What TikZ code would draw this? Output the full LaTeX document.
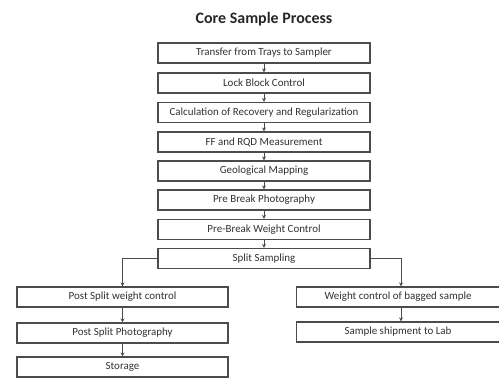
\documentclass[tikz,border=0pt]{standalone}
\usepackage{fontspec}
\setmainfont{Carlito}
\usetikzlibrary{arrows.meta}
\begin{document}
\begin{tikzpicture}[x=1bp,y=-1bp,
  stepbox/.style={draw=black!70, line width=1.2bp, fill=white, inner sep=0pt,
    minimum height=20bp, font=\fontsize{11}{13}\selectfont, text=black!80},
  mainbox/.style={stepbox, minimum width=212bp},
  leftbox/.style={stepbox, minimum width=211bp},
  rightbox/.style={stepbox, minimum width=203bp},
  conn/.style={draw=black!70, line width=0.8bp, -{Stealth[length=4bp,width=4bp]}}]
\useasboundingbox (0,0) rectangle (499,379);
\node[font=\bfseries\fontsize{16}{18}\selectfont, text=black!85] (title) at (264,19) {Core Sample Process};
\node[mainbox] (b1) at (264,53) {Transfer from Trays to Sampler};
\node[mainbox] (b2) at (264,83) {Lock Block Control};
\node[mainbox] (b3) at (264,112.5) {Calculation of Recovery and Regularization};
\node[mainbox] (b4) at (264,142) {FF and RQD Measurement};
\node[mainbox] (b5) at (264,171) {Geological Mapping};
\node[mainbox] (b6) at (264,200) {Pre Break Photography};
\node[mainbox] (b7) at (264,229.5) {Pre-Break Weight Control};
\node[mainbox] (b8) at (264,258.5) {Split Sampling};
\node[leftbox] (l1) at (122.5,297) {Post Split weight control};
\node[leftbox] (l2) at (122.5,333) {Post Split Photography};
\node[leftbox] (l3) at (122.5,367) {Storage};
\node[rightbox] (r1) at (398,297) {Weight control of bagged sample};
\node[rightbox] (r2) at (398,332) {Sample shipment to Lab};
\foreach \a/\b in {b1/b2,b2/b3,b3/b4,b4/b5,b5/b6,b6/b7,b7/b8,l1/l2,l2/l3}
  \draw[conn] (\a.south) -- (\b.north);
\draw[conn] ([xshift=3bp]r1.south) -- ([xshift=3bp]r2.north);
\draw[conn] (b8.west) -| (l1.north);
\draw[conn] (b8.east) -| ([xshift=3bp]r1.north);
\end{tikzpicture}
\end{document}
